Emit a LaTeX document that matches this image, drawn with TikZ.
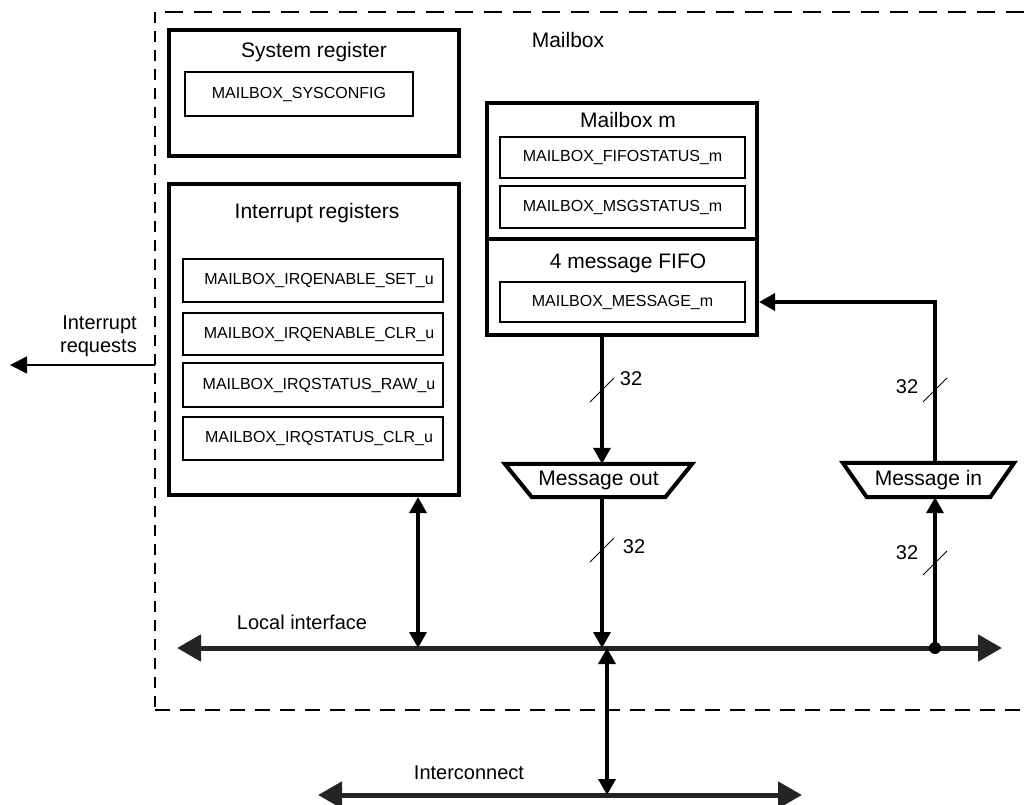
\documentclass[tikz,border=0pt]{standalone}
\usepackage{fontspec}
\setmainfont{Liberation Sans}
\usetikzlibrary{arrows.meta,calc}
\definecolor{busgray}{HTML}{262324}
\begin{document}
\begin{tikzpicture}[x=1pt,y=-1pt,
  bigbox/.style={draw,line width=4pt,inner sep=0pt},
  regbox/.style={draw,line width=2.8pt,inner sep=0pt,font=\fontsize{16}{19}\selectfont},
  ttl/.style={inner sep=0pt,font=\fontsize{21}{23}\selectfont},
  lbl/.style={inner sep=0pt,font=\fontsize{20}{23}\selectfont},
  arr/.style={line width=3.5pt,-{Triangle[length=16pt,width=17pt]}},
  dbl/.style={line width=3.5pt,{Triangle[length=16pt,width=17pt]}-{Triangle[length=16pt,width=17pt]}},
  bus/.style={line width=5pt,draw=busgray,{Triangle[length=24pt,width=26pt]}-{Triangle[length=24pt,width=26pt]}},
  slash/.style={line width=1pt},
  trap/.style={line width=4pt,line join=miter}]
\useasboundingbox (0,0) rectangle (1024,804);

% dashed mailbox border
\draw[line width=1.8pt,dash pattern=on 18pt off 11pt] (1024,12) -- (155,12);
\draw[line width=1.8pt,dash pattern=on 11pt off 8pt] (155,12) -- (155,710);
\draw[line width=1.6pt,dash pattern=on 15pt off 10pt] (155,710) -- (1024,710);
\node[ttl] (mailboxlbl) at (568,40) {Mailbox};

% system register
\node[bigbox,minimum width=290pt,minimum height=126pt] (sys) at (314,93) {};
\node[ttl] (systitle) at (314,52) {System register};
\node[regbox,minimum width=228pt,minimum height=44pt] (syscfg) at (299,94) {MAILBOX\_SYSCONFIG};

% interrupt registers
\node[bigbox,minimum width=290pt,minimum height=311pt] (irq) at (314,339.5) {};
\node[ttl] (irqtitle) at (317,213) {Interrupt registers};
\node[regbox,minimum width=260pt,minimum height=43pt] (r1) at (313,280.5) {\hspace*{12pt}MAILBOX\_IRQENABLE\_SET\_u};
\node[regbox,minimum width=260pt,minimum height=42pt] (r2) at (313,334) {\hspace*{12pt}MAILBOX\_IRQENABLE\_CLR\_u};
\node[regbox,minimum width=260pt,minimum height=44pt] (r3) at (313,385) {\hspace*{12pt}MAILBOX\_IRQSTATUS\_RAW\_u};
\node[regbox,minimum width=260pt,minimum height=43pt] (r4) at (313,438.5) {\hspace*{12pt}MAILBOX\_IRQSTATUS\_CLR\_u};

% mailbox m
\node[bigbox,minimum width=270pt,minimum height=232pt] (mbx) at (622,219) {};
\node[ttl] (mbxtitle) at (628,120) {Mailbox m};
\node[regbox,minimum width=245pt,minimum height=41pt] (fifo) at (622.5,157.5) {MAILBOX\_FIFOSTATUS\_m};
\node[regbox,minimum width=245pt,minimum height=42pt] (msgst) at (622.5,207) {MAILBOX\_MSGSTATUS\_m};
\coordinate (div) at (622,239);
\draw[line width=4pt] (mbx.west |- div) -- (mbx.east |- div);
\node[ttl] (fifotitle) at (628,263) {4 message FIFO};
\node[regbox,minimum width=245pt,minimum height=40pt] (msg) at (622.5,302) {MAILBOX\_MESSAGE\_m};

% message out / in
\node[ttl,minimum width=133pt,minimum height=33pt] (mout) at (598.5,480.5) {Message out};
\draw[trap] ($(mout.north west)+(-27,0)$) -- ($(mout.north east)+(27,0)$) -- (mout.south east) -- (mout.south west) -- cycle;
\node[ttl,minimum width=123pt,minimum height=34pt] (min) at (928.5,480) {Message in};
\draw[trap] ($(min.north west)+(-24,0)$) -- ($(min.north east)+(24,0)$) -- (min.south east) -- (min.south west) -- cycle;

% coordinates
\coordinate (outx) at (602,0);
\coordinate (inx) at (935,0);
\coordinate (irqx) at (418,0);
\coordinate (icx) at (607,0);
\coordinate (busL) at (177,648);
\coordinate (busR) at (1002,648);
\coordinate (icL) at (318,795);
\coordinate (icR) at (802,795);

% buses
\draw[bus] (busL) -- (busR);
\draw[bus] (icL) -- (icR);
\node[lbl] (locallbl) at (302,622) {Local interface};
\node[lbl] (iclbl) at (469,773) {Interconnect};

% connectors
\draw[arr] (mbx.south -| outx) -- (mout.north -| outx);
\draw[arr] (mout.south -| outx) -- (busL -| outx);
\draw[dbl] (irq.south -| irqx) -- (busL -| irqx);
\draw[dbl] (busL -| icx) -- (icL -| icx);
\draw[arr] (busL -| inx) -- (min.south -| inx);
\fill (busL -| inx) circle[radius=6];
\draw[arr] (min.north -| inx) |- (msg.east -| mbx.east);

% interrupt requests
\coordinate (irqsrc) at (155,365);
\coordinate (irqdst) at (10,365);
\draw[line width=1.5pt,-{Triangle[length=17pt,width=17pt]}] (irqsrc) -- (irqdst);
\node[lbl,align=right,anchor=east] (irqlbl) at (137,336.5) {Interrupt\\requests};

% bus width marks
\coordinate (s1) at (602,390);
\coordinate (s2) at (935,390);
\coordinate (s3) at (602,550);
\coordinate (s4) at (935,563);
\foreach \s in {s1,s2,s3,s4}{
  \draw[slash] ($(\s)+(-12,12)$) -- ($(\s)+(12,-12)$);
}
\node[lbl] (w1) at (631,379) {32};
\node[lbl] (w2) at (907,387) {32};
\node[lbl] (w3) at (634,547) {32};
\node[lbl] (w4) at (907,553) {32};
\end{tikzpicture}
\end{document}
